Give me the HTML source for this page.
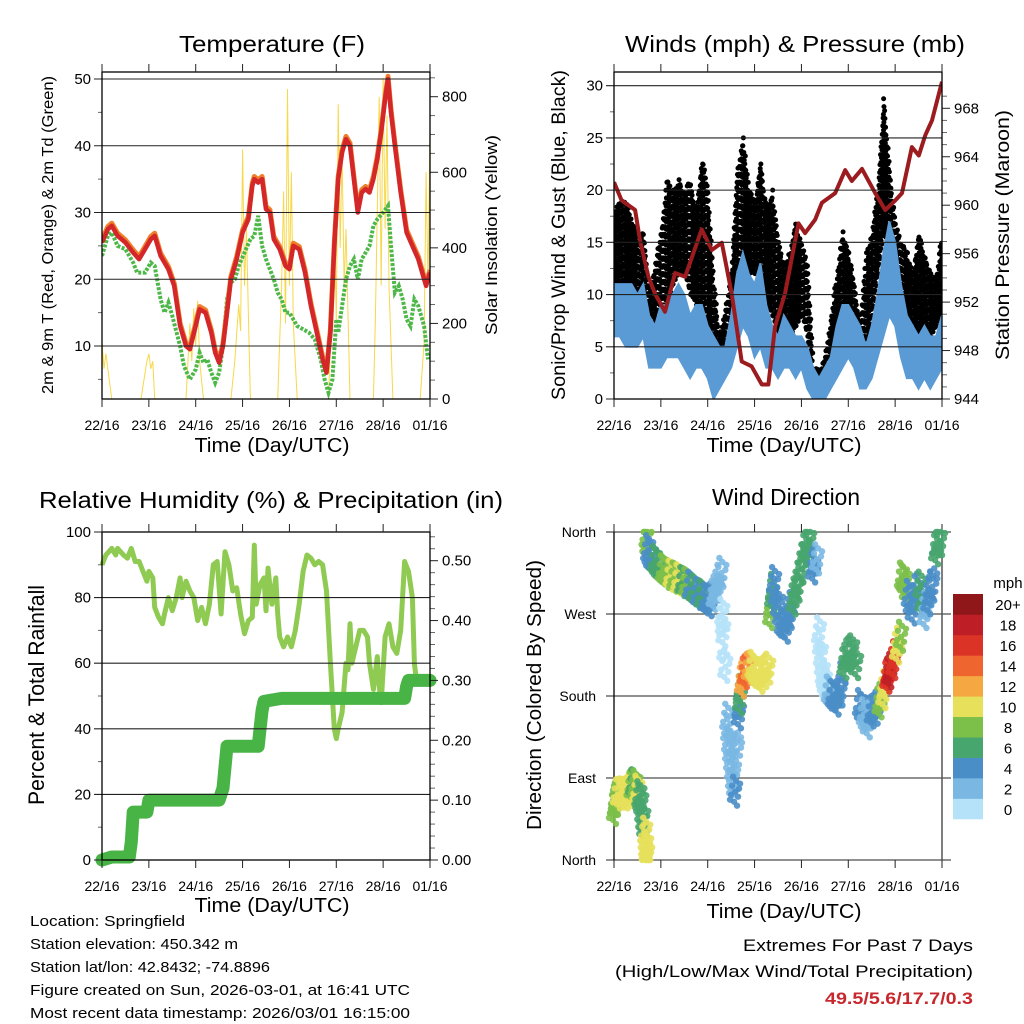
<!DOCTYPE html>
<html><head><meta charset="utf-8"><style>
html,body{margin:0;padding:0;background:#fff}
svg{display:block;font-family:"Liberation Sans",sans-serif}
</style></head><body>
<svg id="fig" xmlns="http://www.w3.org/2000/svg" width="1024" height="1024" viewBox="0 0 1024 1024">
<rect width="1024" height="1024" fill="#fff"/>
<g id="g-temp"></g>
<g id="g-wind"></g>
<g id="g-rh"></g>
<g id="g-dir"></g>
<g font-size="23" text-anchor="middle" fill="#000">
<text x="272" y="52" textLength="186" lengthAdjust="spacingAndGlyphs">Temperature (F)</text>
<text x="795" y="52" textLength="340" lengthAdjust="spacingAndGlyphs">Winds (mph) &amp; Pressure (mb)</text>
<text x="271" y="508" textLength="464" lengthAdjust="spacingAndGlyphs">Relative Humidity (%) &amp; Precipitation (in)</text>
<text x="786" y="505" textLength="148" lengthAdjust="spacingAndGlyphs">Wind Direction</text>
</g>
<g font-size="15" fill="#000">
<text x="30" y="926" textLength="155" lengthAdjust="spacingAndGlyphs">Location: Springfield</text>
<text x="30" y="949" textLength="208" lengthAdjust="spacingAndGlyphs">Station elevation: 450.342 m</text>
<text x="30" y="972" textLength="240" lengthAdjust="spacingAndGlyphs">Station lat/lon: 42.8432; -74.8896</text>
<text x="30" y="995" textLength="380" lengthAdjust="spacingAndGlyphs">Figure created on Sun, 2026-03-01, at 16:41 UTC</text>
<text x="30" y="1018" textLength="380" lengthAdjust="spacingAndGlyphs">Most recent data timestamp: 2026/03/01 16:15:00</text>
</g>
<g font-size="17" text-anchor="end">
<text x="973" y="951" textLength="230" lengthAdjust="spacingAndGlyphs">Extremes For Past 7 Days</text>
<text x="973" y="977" textLength="358" lengthAdjust="spacingAndGlyphs">(High/Low/Max Wind/Total Precipitation)</text>
<text x="973" y="1004" fill="#c8282d" font-weight="bold" textLength="148" lengthAdjust="spacingAndGlyphs">49.5/5.6/17.7/0.3</text>
</g>
</svg>
<script>
// ---------- data ----------
const dayLabels=["22/16","23/16","24/16","25/16","26/16","27/16","28/16","01/16"];
const tempHours=[0,3,5,8,12,16,19,22,25,27,30,34,37,40,43,45,48,50,53,56,58,60,62,64,66,69,72,75,77,78,80,82,84,86,88,91,94,96,98,101,104,107,110,113,115,117,119,121,123,125,127,129,131,133,135,137,139,141,143,145,146.5,148,150,153,156,159,162,165,166,168];
const tempVals=[25.5,27.5,28,26.5,25.5,24,23,24.5,26,26.5,23.5,21.5,19,13,10,9.5,13,15.5,15,12,9,7.5,10,15,20,23,27,29,34,35,34.5,35,30.5,30,26,24.5,22,21.5,25,24.5,21,16,12,8,6,12,25,35,39,41,40,35,30,33,33.5,33,35,38,42,47,50,45,40,33,27,25,23,20,19,21];
const dewHours=[0,3,5,8,12,16,18,22,25,27,30,32,34,36,40,42,45,48,50,52,54,56,58,60,62,64,66,68,70,73,76,78,80,82,84,86,88,90,92,94,96,98,100,103,106,109,112,114,116,118,120,121,123,125,127,129,131,133,135,137,139,141,144,146.5,148,150,152,154,156,158,160,162,165,167];
const dewVals=[23.5,26.5,27,25,24.5,22.5,21,21,22.5,22,17,15,16.5,14.5,10,7,5,6.5,9,7.5,8,6,4.5,6,10,17,19.5,20,22,24,26,26.5,29.5,25,23,21.5,20,18,17,15,15,14,13,12.5,12,11,8,5,3,5,14,12,16,20,22,23,20,23,24,25,28,29,30,31,25,18,19,17,14,13,17,16,13,8];
const solarHours=[0,1,2,4,5,20,23,24,25,26,27,43,45,46,47,48,49,50,52,66,68,70,71,72,73,74,75,76,90,92,93,94,95,96,97,98,100,116,118,119,120,121,122,123,124,125,127,139,140,141,142,143,144,145,146,147,149,163,165,166,167,168];
const solarVals=[150,80,120,40,0,0,100,120,80,100,0,0,200,100,240,140,260,100,0,0,100,250,180,660,300,450,220,0,0,300,550,200,820,300,600,200,0,0,300,500,200,780,400,650,300,450,0,0,200,500,800,300,850,450,750,300,0,0,150,600,300,720];
const presHours=[0,3.9,10.8,13.3,17.6,21,26.1,31.3,36.4,44.9,50.1,55.2,60.3,65.4,70.5,75.7,79.1,82.5,87.6,94.5,97.9,103,106.5,113.3,118.4,121.8,127,133.8,138.9,144.1,147.5,152.6,156.1,159.5,162.9,168];
const presVals=[961.9,960.4,959.6,957.1,954.1,952.7,951.2,954.4,954.1,958,956.3,956.9,952.7,947.1,946.7,945.2,945.2,950,952.7,958.5,957.7,958.8,960.2,961,962.9,962,963,961,959.6,960.4,961,964.8,964.1,965.8,967,970.2];
const windHours=[0,3,6,9,12,15,18,21,24,27,30,33,36,39,42,45,48,51,54,57,60,63,66,69,72,75,78,81,84,87,90,93,96,99,102,105,108,111,114,117,120,123,126,129,132,135,138,141,144,147,150,153,156,159,162,165,168];
const windLow=[6,6,5,5,5,6,3,3,3,4,4,4,3,2,3,3,2,0,1,2,3,5,7,6,4,5,3,3,2,3,3,2,3,1,0,0,0,1,2,3,4,3,1,1,2,4,6,8,7,4,2,2,1,2,1,2,3];
const windHigh=[11,11,11,11,10,11,8,7,9,9,10,11,10,8,9,9,7,6,5,5,8,12,14,12,11,13,9,7,6,8,7,6,6,5,3,2,3,4,7,9,9,8,7,5,7,10,14,17,15,11,8,7,6,7,6,6,8];
const gustLow=[10,11,11,10,9,6,4,4,6,8,11,12,12,10,9,9,7,3,3,4,6,11,13,12,12,12,9,8,6,6,6,7,8,6,1,1,1,3,4,7,8,4,3,5,8,12,16,12,10,8,5,6,5,6,6,7,8];
const gustHigh=[18,19,19,17,16,16,10,13,16,21,20,21,20,21,18,23,20,11,6,9,12,22,25,20,19,23,18,20,15,13,14,17,15,13,3,3,4,8,12,16,14,11,7,14,16,20,29,22,17,15,14,12,16,14,12,12,16];
const rhHours=[0,2,5,7,8,11,13,15,17,19,21,23,24,26,27,29,31,32,34,36,38,40,41,43,45,47,49,51,53,55,57,59,61,63,65,67,69,71,73,75,77,78,79,81,83,84,85,87,89,90,91,93,95,97,99,101,103,105,107,109,111,113,115,117,119,120,121,123,125,126,127,128,130,132,134,136,137,139,141,142,143,145,147,149,151,153,155,157,159,160,161];
const rhVals=[90,93,95,93,95,93,92,95,91,91,88,85,88,86,77,74,72,75,80,76,80,86,80,85,82,80,73,77,72,78,90,91,75,94,90,82,83,75,69,73,74,96,78,84,86,76,89,78,86,75,68,65,68,65,70,78,88,93,92,90,91,90,82,60,40,37,40,45,60,58,72,60,65,70,70,68,60,52,62,53,48,68,72,65,63,70,91,88,80,60,55];
const rainHours=[0,5,14,15,16,20,23,24,60,62,64,80,81,82,83,92,155,156,157,168];
const rainVals=[0,0.005,0.005,0.03,0.08,0.08,0.08,0.10,0.10,0.12,0.19,0.19,0.22,0.25,0.265,0.27,0.27,0.29,0.30,0.30];
const dirHours=[0,1,2,4,6,8,9,10,11,12,13,14,15,16,16.5,17,16.7,17.5,19,21,23,25,27,29,31,33,35,37,39,41,43,45,47,49,51,53,55,55.5,56,57,58,59,60,61,62,63,64,64.5,65.5,67,69,71,73,75,77,79,80,81,82,84,86,88,90,92,94,96,98,100,102,104,105,106,107,108,110,112,114,116,118,120,122,124,126,128,130,132,134,136,138,140,141,143,145,147,147.5,149,151,153,155,157,159,161,163,165,167];
const dirVals=[55,65,72,73,72,75,80,83,82,76,70,62,45,30,15,5,355,340,332,328,322,318,314,312,310,308,305,303,300,296,292,290,286,283,290,300,315,270,250,212,155,130,110,90,75,120,160,176,195,205,210,212,205,200,205,210,270,290,305,280,260,255,270,285,300,320,340,350,320,330,250,225,205,195,185,180,175,185,215,225,230,215,170,160,150,162,165,172,182,200,205,215,232,245,310,305,290,275,295,300,270,285,300,340,350];
const dirSpeeds=[7,8,10,10,10,9,8,6,8,10,6,6,6,10,10,10,7,4,4,6,6,8,8,10,8,10,6,8,4,6,4,6,4,4,2,2,2,0,0,0,2,2,2,2,4,2,4,6,12,14,12,10,10,10,10,10,8,6,4,4,4,4,4,6,6,6,6,6,4,2,0,0,0,0,2,4,4,4,6,6,6,6,4,2,2,4,4,8,10,16,18,16,10,8,8,8,4,4,4,6,2,4,4,6,6];
const speedColors=["#b5e2f8","#7ab8e3","#4a8ec8","#47a56e","#7cc04a","#e6e05a","#f5a742","#ef6530","#dc3327","#be1f26","#901719"];
const speedLabels=["0","2","4","6","8","10","12","14","16","18","20+"];

// ---------- helpers ----------
const NS="http://www.w3.org/2000/svg";
function mk(parent,tag,attrs){const e=document.createElementNS(NS,tag);for(const k in attrs)e.setAttribute(k,attrs[k]);parent.appendChild(e);return e;}
const X0=102,X1=430,DX=512;
function xT(h,off){return off+X0+h/168*(X1-X0);}
function lin(d0,d1,p0,p1){return v=>p0+(v-d0)/(d1-d0)*(p1-p0);}
function pathFrom(hs,vs,fx,fy){let d="";for(let i=0;i<hs.length;i++)d+=(i?"L":"M")+fx(hs[i]).toFixed(1)+" "+fy(vs[i]).toFixed(1);return d;}

function frame(g,off,top,bot,leftTicks,fyL,rightTicks,fyR,rightMinor,leftMinor,xlabelY){
  leftTicks.forEach(t=>{const y=fyL(t.v);
    const l=mk(g,"line",{x1:off+X0-8,x2:off+X1,y1:y,y2:y,stroke:"#222","stroke-width":1.1});
    
    
    const tx=mk(g,"text",{x:off+X0-11,y:y+5,"font-size":15,"text-anchor":"end"});tx.textContent=t.l;
    
    
  });
  (leftMinor||[]).forEach(v=>{const y=fyL(v);mk(g,"line",{x1:off+X0-4,x2:off+X0,y1:y,y2:y,stroke:"#666"});});
  if(rightTicks)rightTicks.forEach(t=>{const y=fyR(t.v);
    mk(g,"line",{x1:off+X1,x2:off+X1+8,y1:y,y2:y,stroke:"#222"});
    const tx=mk(g,"text",{x:off+X1+12,y:y+5,"font-size":15});tx.textContent=t.l;
    
    
  });
  (rightMinor||[]).forEach(v=>{const y=fyR(v);mk(g,"line",{x1:off+X1,x2:off+X1+5,y1:y,y2:y,stroke:"#666"});});
  const b=mk(g,"rect",{x:off+X0,y:top,width:X1-X0,height:bot-top,fill:"none",stroke:"#000","stroke-width":1.3});
  
  
  dayLabels.forEach((d,i)=>{const x=xT(i*24,off);
    mk(g,"line",{x1:x,x2:x,y1:top-8,y2:top,stroke:"#222"});
    mk(g,"line",{x1:x,x2:x,y1:bot,y2:bot+8,stroke:"#222"});
    const tx=mk(g,"text",{x:x,y:bot+31,"font-size":14,"text-anchor":"middle"});tx.textContent=d;
    
    
  });
  const xt=mk(g,"text",{x:off+272,y:xlabelY,"font-size":20,"text-anchor":"middle",textLength:155,lengthAdjust:"spacingAndGlyphs"});xt.textContent="Time (Day/UTC)";
  
  
}
function ytitle(g,x,y,txt,size,len){const t=mk(g,"text",{x:0,y:0,"font-size":size,"text-anchor":"middle",transform:`translate(${x},${y}) rotate(-90)`,textLength:len,lengthAdjust:"spacingAndGlyphs"});t.textContent=txt;
  
  }
function clip(id,off,top,bot){const svg=document.getElementById("fig");const c=mk(svg,"clipPath",{id:id});mk(c,"rect",{x:off+X0,y:top,width:X1-X0,height:bot-top});}

// ---------- temperature panel ----------
(function(){
  const g=document.getElementById("g-temp");const top=72,bot=399;
  const fy=lin(10,50,346,79), fs=lin(0,800,399,96.7);
  clip("c1",0,top,bot);
  const fx=h=>xT(h,0);
  const pl=mk(g,"g",{"clip-path":"url(#c1)"});
  const s=mk(pl,"path",{d:pathFrom(solarHours,solarVals,fx,fs),fill:"none",stroke:"#f7d84a","stroke-width":1});
  
  
  const dw=mk(pl,"path",{d:pathFrom(dewHours,dewVals,fx,fy),fill:"none",stroke:"#4db848","stroke-width":4,"stroke-dasharray":"3 1.5"});
  
  
  const o=mk(pl,"path",{d:pathFrom(tempHours,tempVals.map(v=>v+0.4),fx,fy),fill:"none",stroke:"#f07f2a","stroke-width":5,"stroke-linejoin":"round"});
  
  
  const r=mk(pl,"path",{d:pathFrom(tempHours,tempVals,fx,fy),fill:"none",stroke:"#d3272a","stroke-width":4.5,"stroke-linejoin":"round"});
  
  
  frame(g,0,top,bot,[10,20,30,40,50].map(v=>({v:v,l:String(v)})),fy,[0,200,400,600,800].map(v=>({v:v,l:String(v)})),fs,[50,100,150,250,300,350,450,500,550,650,700,750,850],[5,15,25,35,45],452);
  ytitle(g,53,235,"2m & 9m T (Red, Orange) & 2m Td (Green)",16,318);
  ytitle(g,497,235,"Solar Insolation (Yellow)",17,200);
})();

// ---------- wind panel ----------
(function(){
  const g=document.getElementById("g-wind");const top=72,bot=399,off=DX;
  const fy=lin(0,30,399,85.7), fp=lin(944,968,399,108.3);
  clip("c2",off,top,bot);
  const fx=h=>xT(h,off);
  const pl=mk(g,"g",{"clip-path":"url(#c2)"});
  const gg=mk(pl,"g",{fill:"#000"});
  
  
  const jit=[0,0.55,0.2,0.8,0.35,0.65,0.1,0.45];
  for(let i=0;i<windHours.length-1;i++){
    for(let s=0;s<6;s++){const f=s/6;const h=windHours[i]+f*3;
      const lo=gustLow[i]+(gustLow[i+1]-gustLow[i])*f, hi=gustHigh[i]+(gustHigh[i+1]-gustHigh[i])*f;
      let k=0;
      for(let v=lo+jit[s]*0.5;v<=hi;v+=0.75){k++;mk(gg,"circle",{cx:fx(h+jit[(k+s)%8]*0.5),cy:fy(v),r:2.5});}
    }
  }
  let d="";windHours.forEach((h,i)=>{d+=(i?"L":"M")+fx(h)+" "+fy(windHigh[i]);});
  for(let i=windHours.length-1;i>=0;i--)d+="L"+fx(windHours[i])+" "+fy(windLow[i]);
  const wb=mk(pl,"path",{d:d+"Z",fill:"#5a9bd5",stroke:"#5a9bd5","stroke-width":2});
  
  
  const p=mk(pl,"path",{d:pathFrom(presHours,presVals,fx,fp),fill:"none",stroke:"#9b1b1e","stroke-width":4,"stroke-linejoin":"round"});
  
  
  frame(g,off,top,bot,[0,5,10,15,20,25,30].map(v=>({v:v,l:String(v)})),fy,[944,948,952,956,960,964,968].map(v=>({v:v,l:String(v)})),fp,[945,946,947,949,950,951,953,954,955,957,958,959,961,962,963,965,966,967,969],[2.5,7.5,12.5,17.5,22.5,27.5],452);
  ytitle(g,565,235,"Sonic/Prop Wind & Gust (Blue, Black)",19,330);
  ytitle(g,1009,235,"Station Pressure (Maroon)",19,250);
})();

// ---------- RH panel ----------
(function(){
  const g=document.getElementById("g-rh");const top=532,bot=860;
  const fy=lin(0,100,860,532), fr=lin(0,0.5,860,560.7);
  const fx=h=>xT(h,0);
  const rh=mk(g,"path",{d:pathFrom(rhHours,rhVals,fx,fy),fill:"none",stroke:"#8fcb52","stroke-width":5,"stroke-linejoin":"round"});
  
  
  const rn=mk(g,"path",{d:pathFrom(rainHours,rainVals,fx,fr),fill:"none",stroke:"#48b446","stroke-width":13,"stroke-linejoin":"round","stroke-linecap":"round"});
  
  
  frame(g,0,top,bot,[0,20,40,60,80,100].map(v=>({v:v,l:String(v)})),fy,[0,0.1,0.2,0.3,0.4,0.5].map(v=>({v:v,l:v.toFixed(2)})),fr,[0.02,0.04,0.06,0.08,0.12,0.14,0.16,0.18,0.22,0.24,0.26,0.28,0.32,0.34,0.36,0.38,0.42,0.44,0.46,0.48,0.52,0.54],[10,30,50,70,90],912);
  ytitle(g,44,695,"Percent & Total Rainfall",22,220);
})();

// ---------- wind direction panel ----------
(function(){
  const g=document.getElementById("g-dir");const top=532,bot=860,off=DX;
  const fy=lin(0,360,860,532);const fx=h=>xT(h,off);
  const names=["North","East","South","West","North"];
  [0,90,180,270,360].forEach((v,i)=>{const y=fy(v);
    const l=mk(g,"line",{x1:off+X0-8,x2:off+X1+9,y1:y,y2:y,stroke:"#222","stroke-width":1.1});
    
    
    const t=mk(g,"text",{x:off+X0-18,y:y+5,"font-size":14,"text-anchor":"end"});t.textContent=names[i];
    
    
  });
  mk(g,"line",{x1:off+X0,x2:off+X0,y1:top,y2:bot,stroke:"#000","stroke-width":1.3});
  mk(g,"line",{x1:off+X1,x2:off+X1,y1:top,y2:bot,stroke:"#555","stroke-width":1.5});
  dayLabels.forEach((d,i)=>{const x=xT(i*24,off);
    mk(g,"line",{x1:x,x2:x,y1:top-8,y2:top,stroke:"#222"});
    mk(g,"line",{x1:x,x2:x,y1:bot,y2:bot+8,stroke:"#222"});
    const tx=mk(g,"text",{x:x,y:bot+31,"font-size":14,"text-anchor":"middle"});tx.textContent=d;
    
    
  });
  const pts=mk(g,"g",{});
  
  
  const offs=[[0,0],[-3,-6],[3,5],[4,-3],[-4,3],[1,-11],[-1,10],[5,-8],[-5,8],[2,14],[-2,-15]];
  function col(s){return speedColors[Math.min(10,Math.round(s/2))];}
  for(let i=0;i<dirHours.length;i++){
    const n=i+1<dirHours.length?i+1:i;
    const cont=n!==i && Math.abs(dirHours[n]-dirHours[i])<=3.1 && Math.abs(dirVals[n]-dirVals[i])<45 && dirHours[n]>dirHours[i];
    const steps=cont?2:1;
    for(let s=0;s<steps;s++){const f=s/steps;
      const h=dirHours[i]+(dirHours[n]-dirHours[i])*f*(cont?1:0);
      const v=dirVals[i]+(dirVals[n]-dirVals[i])*f*(cont?1:0);
      offs.forEach((o,k)=>{if(s===1&&k%2)return;const cy=Math.max(top,Math.min(bot,fy(v)+o[1]));
        mk(pts,"circle",{cx:fx(h)+o[0],cy:cy,r:3.2,fill:col(dirSpeeds[i]),"fill-opacity":0.9});});
    }
  }
  const cb=mk(g,"g",{});
  
  
  const cbTop=594,cbBot=819,h=(cbBot-cbTop)/11;
  speedColors.forEach((c,i)=>{const y=cbBot-(i+1)*h;
    mk(cb,"rect",{x:953,y:y,width:30,height:h+0.3,fill:c});
    const t=mk(cb,"text",{x:1008,y:y+h/2+6,"font-size":15,"text-anchor":"middle"});t.textContent=speedLabels[i];
    
    
  });
  const m=mk(cb,"text",{x:1008,y:588,"font-size":15,"text-anchor":"middle"});m.textContent="mph";
  
  
  const xt=mk(g,"text",{x:off+272,y:918,"font-size":20,"text-anchor":"middle",textLength:155,lengthAdjust:"spacingAndGlyphs"});xt.textContent="Time (Day/UTC)";
  
  
  ytitle(g,541,695,"Direction (Colored By Speed)",20,270);
})();
</script>
</body></html>
